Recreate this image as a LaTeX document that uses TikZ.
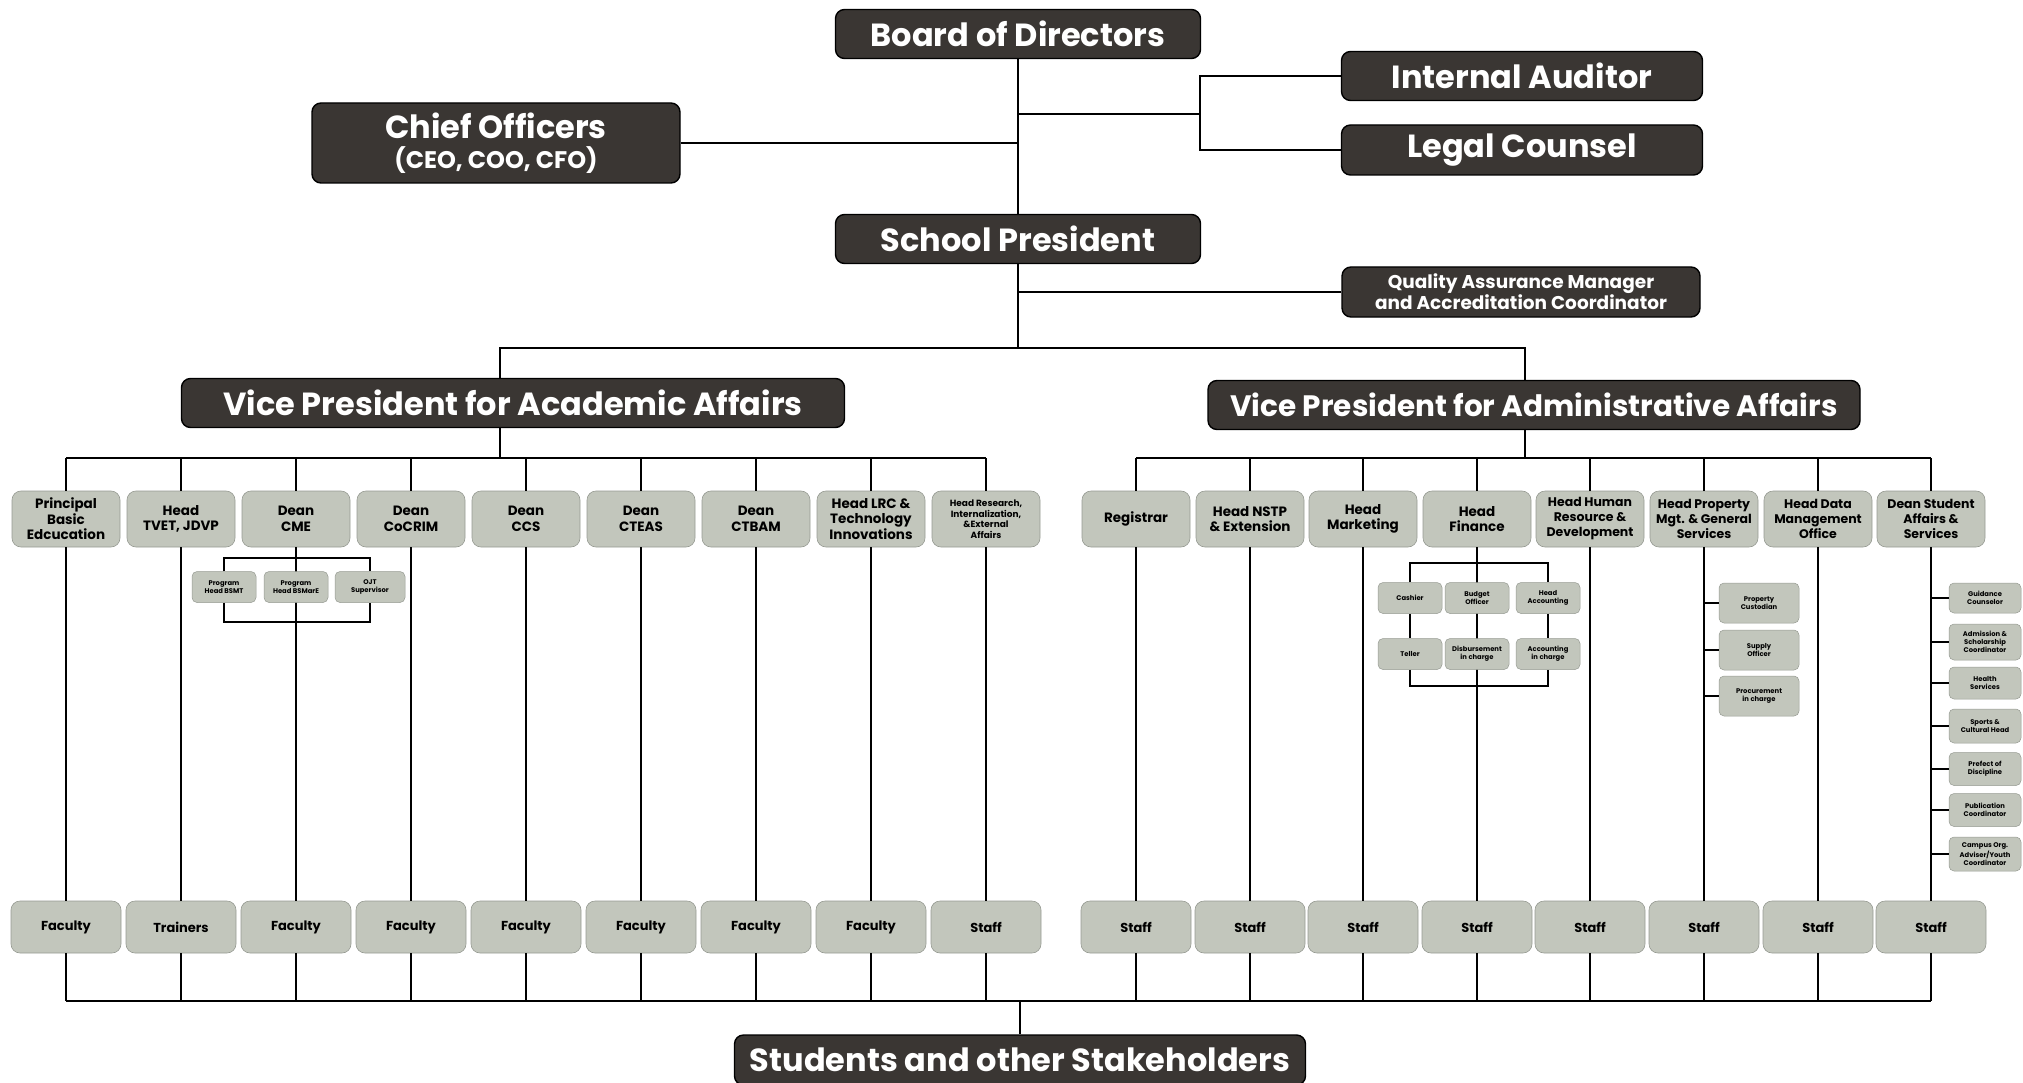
\documentclass[tikz,border=0pt]{standalone}
\usepackage{fontspec}
\setmainfont{Poppins}
\usepackage{tikz}
\usetikzlibrary{positioning,calc}
\definecolor{boxdark}{RGB}{58,54,51}
\definecolor{boxgray}{RGB}{194,198,188}
\definecolor{boxedge}{RGB}{150,154,146}
\tikzset{
  topbox/.style={draw=black,line width=1.4pt,fill=boxdark,text=white,rounded corners=9pt,
    minimum width=365pt,minimum height=49pt,inner sep=0pt,align=center,
    font=\fontsize{32}{34}\selectfont\bfseries},
  unitbox/.style={draw=boxedge,line width=0.6pt,fill=boxgray,rounded corners=9pt,
    minimum width=108pt,minimum height=56pt,inner sep=1pt,align=center,
    font=\fontsize{13.5}{15.5}\selectfont\bfseries},
  basebox/.style={unitbox,minimum width=110pt,minimum height=52pt,
    font=\fontsize{13}{15}\selectfont\bfseries},
  subbox/.style={draw=boxedge,line width=0.5pt,fill=boxgray,rounded corners=5pt,
    minimum width=64pt,minimum height=31pt,inner sep=1pt,align=center,
    font=\fontsize{6.8}{8}\selectfont\bfseries},
  orgline/.style={line width=1.3pt,draw=black},
  subline/.style={line width=1.1pt,draw=black},
}

\begin{document}
\begin{tikzpicture}[x=1pt,y=-1pt]
    \useasboundingbox (0,0) rectangle (2023,1083);
    % top of the chart
    \node[topbox] (board) at (1018,34) {Board of Directors};
    \node[topbox] (pres) at (1018,239) {School President};
    \node[topbox,minimum width=368pt,minimum height=80pt] (chief) at (496,143)
      {Chief Officers\\[-4pt]{\fontsize{24}{26}\selectfont (CEO, COO, CFO)}};
    \node[topbox,minimum width=361pt] (audit) at (1522,76) {Internal Auditor};
    \node[topbox,minimum width=361pt,minimum height=50pt] (legal) at (1522,150) {Legal Counsel};
    \node[topbox,minimum width=358pt,minimum height=50pt,
      font=\fontsize{18.5}{21}\selectfont\bfseries] (qa) at (1521,292)
      {Quality Assurance Manager\\and Accreditation Coordinator};
    \node[topbox,minimum width=663pt] (vpacad) at (513,403) {Vice President for Academic Affairs};
    \node[topbox,minimum width=652pt,font=\fontsize{29.5}{32}\selectfont\bfseries] (vpadmin) at (1534,405)
      {Vice President for Administrative Affairs};
    \node[topbox,minimum width=571pt,minimum height=50pt] (stake) at (1020,1060) {Students and other Stakeholders};

    \coordinate (jaudit) at (1200,114);
    \coordinate (vpajoin) at (500,348);
    \coordinate (vpbjoin) at (1525,348);
    \coordinate (lbus) at (66,458);
    \coordinate (rbus) at (1136,458);
    \coordinate (bbus) at (66,1001);

    % academic units
    \node[unitbox] (a1) at (66,519) {Principal\\Basic\\Edcucation};
    \node[unitbox] (a2) at (181,519) {Head\\TVET, JDVP};
    \node[unitbox] (a3) at (296,519) {Dean\\CME};
    \node[unitbox] (a4) at (411,519) {Dean\\CoCRIM};
    \node[unitbox] (a5) at (526,519) {Dean\\CCS};
    \node[unitbox] (a6) at (641,519) {Dean\\CTEAS};
    \node[unitbox] (a7) at (756,519) {Dean\\CTBAM};
    \node[unitbox] (a8) at (871,519) {Head LRC \&\\Technology\\Innovations};
    \node[unitbox,font=\fontsize{9}{10.5}\selectfont\bfseries] (a9) at (986,519)
      {Head Research,\\Internalization,\\\&External\\Affairs};

    % administrative units
    \node[unitbox] (b1) at (1136,519) {Registrar};
    \node[unitbox] (b2) at (1250,519) {Head NSTP\\\& Extension};
    \node[unitbox] (b3) at (1363,519) {Head\\Marketing};
    \node[unitbox] (b4) at (1477,519) {Head\\Finance};
    \node[unitbox,font=\fontsize{12.5}{15}\selectfont\bfseries] (b5) at (1590,519) {Head Human\\Resource \&\\Development};
    \node[unitbox,font=\fontsize{12.5}{15}\selectfont\bfseries] (b6) at (1704,519) {Head Property\\Mgt. \& General\\Services};
    \node[unitbox,font=\fontsize{12.5}{15}\selectfont\bfseries] (b7) at (1818,519) {Head Data\\Management\\Office};
    \node[unitbox,font=\fontsize{12.5}{15}\selectfont\bfseries] (b8) at (1931,519) {Dean Student\\Affairs \&\\Services};

    % people under each unit
    \node[basebox] (a1-low) at (66,927) {Faculty};
    \node[basebox] (a2-low) at (181,927) {Trainers};
    \node[basebox] (a3-low) at (296,927) {Faculty};
    \node[basebox] (a4-low) at (411,927) {Faculty};
    \node[basebox] (a5-low) at (526,927) {Faculty};
    \node[basebox] (a6-low) at (641,927) {Faculty};
    \node[basebox] (a7-low) at (756,927) {Faculty};
    \node[basebox] (a8-low) at (871,927) {Faculty};
    \node[basebox] (a9-low) at (986,927) {Staff};
    \node[basebox] (b1-low) at (1136,927) {Staff};
    \node[basebox] (b2-low) at (1250,927) {Staff};
    \node[basebox] (b3-low) at (1363,927) {Staff};
    \node[basebox] (b4-low) at (1477,927) {Staff};
    \node[basebox] (b5-low) at (1590,927) {Staff};
    \node[basebox] (b6-low) at (1704,927) {Staff};
    \node[basebox] (b7-low) at (1818,927) {Staff};
    \node[basebox] (b8-low) at (1931,927) {Staff};

    % connectors of the main tree
    \draw[orgline] (board) -- (pres);
    \draw[orgline] (chief.east) -- (chief.east -| board.south);
    \draw[orgline] (jaudit -| board.south) -- (jaudit);
    \draw[orgline] (audit.west) -| (jaudit) |- (legal.west);
    \draw[orgline] (pres.south) -- (pres.south |- vpajoin);
    \draw[orgline] (qa.west) -- (qa.west -| pres.south);
    \draw[orgline] (vpacad.north -| vpajoin) -- (vpajoin) -- (vpbjoin) -- (vpbjoin |- vpadmin.north);
    \draw[orgline] (vpacad.south -| vpajoin) -- (lbus -| vpajoin);
    \draw[orgline] (vpadmin.south -| vpbjoin) -- (rbus -| vpbjoin);
    \draw[orgline] (lbus) -- (lbus -| a9.north);
    \draw[orgline] (rbus) -- (rbus -| b8.north);
    \draw[orgline] (bbus) -- (bbus -| b8-low.south);
    \draw[orgline] (bbus -| stake.north) -- (stake.north);
    \foreach \n in {a1,a2,a3,a4,a5,a6,a7,a8,a9}
      \draw[orgline] (lbus -| \n.north) -- (\n.north) (\n.south) -- (\n-low.north)
        (\n-low.south) -- (bbus -| \n-low.south);
    \foreach \n in {b1,b2,b3,b4,b5,b6,b7,b8}
      \draw[orgline] (rbus -| \n.north) -- (\n.north) (\n.south) -- (\n-low.north)
        (\n-low.south) -- (bbus -| \n-low.south);

    % CME programs
    \coordinate (cmetop) at (296,558);
    \coordinate (cmebot) at (296,622);
    \node[subbox] (bsmt) at (224,587) {Program\\Head BSMT};
    \node[subbox] (bsmare) at (296,587) {Program\\Head BSMarE};
    \node[subbox,minimum width=70pt] (ojt) at (370,587) {OJT\\Supervisor};
    \draw[subline] (bsmt.north) -- (bsmt.north |- cmetop) -- (ojt.north |- cmetop) -- (ojt.north);
    \draw[subline] (bsmt.south) -- (bsmt.south |- cmebot) -- (ojt.south |- cmebot) -- (ojt.south);

    % finance offices
    \coordinate (fintop) at (1477,563);
    \coordinate (finbot) at (1477,686);
    \node[subbox] (cashier) at (1410,598) {Cashier};
    \node[subbox] (budget) at (1477,598) {Budget\\Officer};
    \node[subbox] (acct) at (1548,598) {Head\\Accounting};
    \node[subbox] (teller) at (1410,654) {Teller};
    \node[subbox] (disb) at (1477,654) {Disbursement\\in charge};
    \node[subbox] (acctic) at (1548,654) {Accounting\\in charge};
    \draw[subline] (cashier.north) -- (cashier.north |- fintop) -- (acct.north |- fintop) -- (acct.north);
    \draw[subline] (cashier) -- (teller);
    \draw[subline] (acct) -- (acctic);
    \draw[subline] (teller.south) -- (teller.south |- finbot) -- (acctic.south |- finbot) -- (acctic.south);

    % property offices
    \node[subbox,minimum width=80pt,minimum height=40pt] (custod) at (1759,603) {Property\\Custodian};
    \node[subbox,minimum width=80pt,minimum height=40pt] (supply) at (1759,650) {Supply\\Officer};
    \node[subbox,minimum width=80pt,minimum height=40pt] (procure) at (1759,696) {Procurement\\in charge};
    \draw[subline] (custod.west) -- (custod.west -| b6.south);
    \draw[subline] (supply.west) -- (supply.west -| b6.south);
    \draw[subline] (procure.west) -- (procure.west -| b6.south);

    % student affairs offices
    \node[subbox,minimum width=72pt,minimum height=30pt] (guid) at (1985,598) {Guidance\\Counselor};
    \node[subbox,minimum width=72pt,minimum height=36pt] (schol) at (1985,642) {Admission \&\\Scholarship\\Coordinator};
    \node[subbox,minimum width=72pt,minimum height=32pt] (health) at (1985,683) {Health\\Services};
    \node[subbox,minimum width=72pt,minimum height=34pt] (sports) at (1985,726) {Sports \&\\Cultural Head};
    \node[subbox,minimum width=72pt,minimum height=33pt] (prefect) at (1985,769) {Prefect of\\Discipline};
    \node[subbox,minimum width=72pt,minimum height=33pt] (pub) at (1985,810) {Publication\\Coordinator};
    \node[subbox,minimum width=72pt,minimum height=34pt] (campus) at (1985,854) {Campus Org.\\Adviser/Youth\\Coordinator};
    \foreach \s in {guid,schol,health,sports,prefect,pub,campus}
      \draw[subline] (\s.west) -- (\s.west -| b8.south);
\end{tikzpicture}
\end{document}
